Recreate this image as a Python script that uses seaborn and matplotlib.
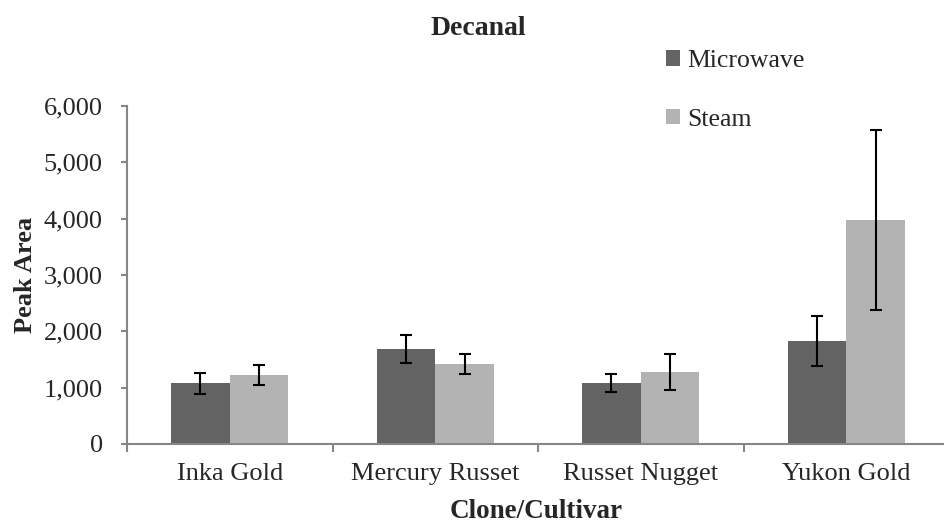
import matplotlib
matplotlib.use("Agg")
import matplotlib.pyplot as plt
from matplotlib.ticker import FuncFormatter, FixedLocator
import seaborn as sns
import pandas as pd
import numpy as np

cultivars = ["Inka Gold", "Mercury Russet", "Russet Nugget", "Yukon Gold"]
methods = ["Microwave", "Steam"]
microwave_area = [1078, 1686, 1083, 1834]
steam_area = [1225, 1415, 1273, 3977]
microwave_err = [190, 245, 160, 444]
steam_err = [178, 175, 320, 1598]
colors = ["#636363", "#b3b3b3"]

df = pd.DataFrame({
    "Clone/Cultivar": cultivars * 2,
    "Method": [methods[0]] * 4 + [methods[1]] * 4,
    "Peak Area": microwave_area + steam_area,
})

sns.set_style("white")
plt.rcParams["font.family"] = ["Liberation Serif", "DejaVu Serif"]

fig = plt.figure(figsize=(9.45, 5.25), dpi=100)
ax = fig.add_axes([127 / 945, 81 / 525, 818 / 945, 338 / 525])

sns.barplot(data=df, x="Clone/Cultivar", y="Peak Area", hue="Method",
            palette=colors, errorbar=None, width=0.571, saturation=1,
            linewidth=0, ax=ax)

# error bars at bar centres
for container, errs in zip(ax.containers, [microwave_err, steam_err]):
    for bar, e in zip(container, errs):
        xc = bar.get_x() + bar.get_width() / 2
        ax.errorbar(xc, bar.get_height(), yerr=e, fmt="none", ecolor="black",
                    elinewidth=1.5, capsize=4.6, capthick=1.5)

ax.set_ylim(0, 6000)
ax.set_xlim(-0.5, 3.48)
ax.yaxis.set_major_locator(FixedLocator(np.arange(0, 6001, 1000)))
ax.yaxis.set_major_formatter(FuncFormatter(lambda v, p: f"{int(v):,}"))

ax.set_xticks(range(4))
ax.set_xticklabels(cultivars)
ax.set_xticks([-0.5, 0.5, 1.5, 2.5], minor=True)
ax.tick_params(axis="x", which="major", length=0, pad=14, labelsize=19)
ax.tick_params(axis="x", which="minor", length=6, width=1.5, color="#868686",
               direction="out", bottom=True)
ax.tick_params(axis="y", length=4.5, width=1.5, color="#868686", direction="out",
               left=True, labelsize=19, pad=13)

for side in ["top", "right"]:
    ax.spines[side].set_visible(False)
for side in ["left", "bottom"]:
    ax.spines[side].set_color("#868686")
    ax.spines[side].set_linewidth(1.5)

ax.set_xlabel("Clone/Cultivar", fontsize=19.5, fontweight="bold")
ax.set_ylabel("Peak Area", fontsize=19, fontweight="bold")
ax.xaxis.set_label_coords(0.5, -0.162)
ax.yaxis.set_label_coords(-0.110, 0.5)

handles, labels = ax.get_legend_handles_labels()
ax.legend(handles, labels, loc="upper left", bbox_to_anchor=(666 / 945, 1 - 50 / 525),
          bbox_transform=fig.transFigure, frameon=False, fontsize=18.5,
          handlelength=0.55, handleheight=0.55, handletextpad=0.27,
          labelspacing=1.43, borderpad=0, borderaxespad=0)

fig.text(478 / 945, 1 - 35 / 525, "Decanal", ha="center", va="baseline",
         fontsize=20, fontweight="bold")

fig.savefig("out.png", dpi=100)
